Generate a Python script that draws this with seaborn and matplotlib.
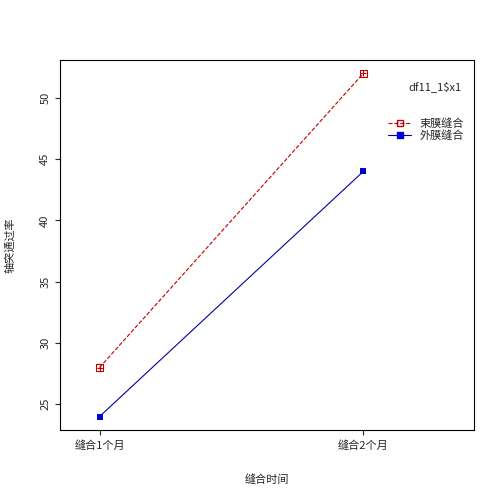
import matplotlib
matplotlib.use("Agg")
import matplotlib.pyplot as plt
import seaborn as sns
import pandas as pd
from matplotlib.lines import Line2D

groups = ["缝合1个月", "缝合2个月"]
series_names = ["束膜缝合", "外膜缝合"]
vals_a = [28, 52]
vals_b = [24, 44]

sns.set_style("ticks")
plt.rcParams['font.family'] = ['Noto Sans CJK SC', 'DejaVu Sans']

red = "#c00000"
blue = "#0000a0"
df = pd.DataFrame({"x": [1, 2, 1, 2], "y": vals_a + vals_b,
                   "s": [series_names[0]]*2 + [series_names[1]]*2})
da = df[df.s == series_names[0]]
db = df[df.s == series_names[1]]

fig = plt.figure(figsize=(5.04, 5.04), dpi=100)
ax = fig.add_axes([60/504, 74/504, 414/504, 370/504])
sns.lineplot(data=da, x="x", y="y", ax=ax, color=red, linestyle="--", linewidth=0.8, legend=False)
sns.scatterplot(data=da, x="x", y="y", ax=ax, marker="s", s=22, facecolor="none",
                edgecolor=red, linewidth=0.8, legend=False, zorder=3)
sns.scatterplot(data=da, x="x", y="y", ax=ax, marker="+", s=22, color=red,
                linewidth=0.8, legend=False, zorder=4)
sns.lineplot(data=db, x="x", y="y", ax=ax, color=blue, linewidth=0.8, legend=False)
sns.scatterplot(data=db, x="x", y="y", ax=ax, marker="s", s=16, color="#0000dd",
                edgecolor="#0000dd", linewidth=0, legend=False, zorder=3)
ax.set_xlim(0.85, 2.42)
ax.set_ylim(22.9, 53.1)
ax.set_xticks([1, 2])
ax.set_xticklabels(groups, fontsize=8)
ax.set_yticks([25, 30, 35, 40, 45, 50])
ax.set_yticklabels([25, 30, 35, 40, 45, 50], fontsize=8, rotation=90, va="center")
ax.set_xlabel("缝合时间", fontsize=8, labelpad=17)
ax.set_ylabel("轴突通过率", fontsize=8, labelpad=18)
for s in ax.spines.values():
    s.set_visible(True); s.set_linewidth(0.8); s.set_color("black")
ax.text(0.905, 0.92, "df11_1$x1", transform=ax.transAxes, fontsize=8, ha="center")
h = [Line2D([], [], color=red, ls="--", lw=0.8, marker="s", mfc="none", mec=red, ms=4),
     Line2D([], [], color=blue, lw=0.8, marker="s", mfc="#0000dd", mec="#0000dd", ms=4)]
ax.legend(h, series_names, loc="upper right", bbox_to_anchor=(1.0, 0.87), frameon=False,
          fontsize=8, handlelength=2, labelspacing=0.1)
fig.savefig("out.png", dpi=100)
